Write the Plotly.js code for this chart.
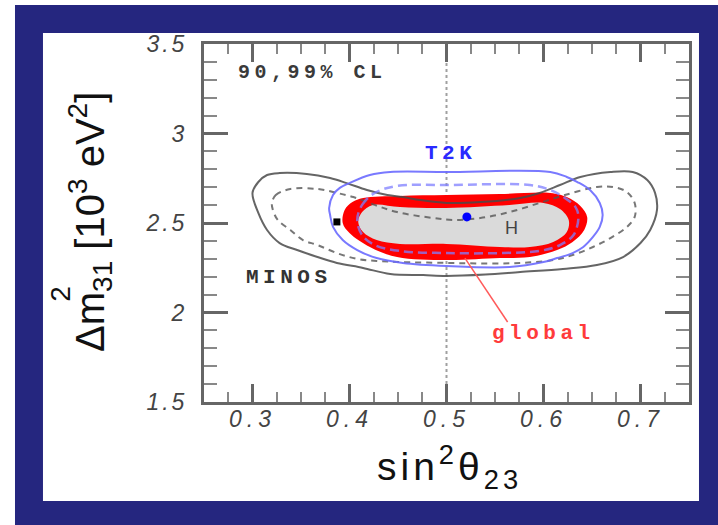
<!DOCTYPE html>
<html>
<head>
<meta charset="utf-8">
<script src="https://cdn.plot.ly/plotly-3.0.1.min.js"></script>
<style>
  html, body { margin: 0; padding: 0; background: #ffffff; }
  #chart { width: 718px; height: 525px; }
  .xtick text { letter-spacing: 5px; }
  .ytick text { letter-spacing: 3px; }
  .annotation-text[style*="Mono"] { letter-spacing: 4.5px; }
  .annotation-text[style*="39px"] { letter-spacing: 4px; }
</style>
</head>
<body>
<div id="chart"></div>
<script>
// Allowed regions in the (sin^2 theta23, Delta m^2_31) plane, 90% and 99% CL.

// MINOS, 99% CL (solid) and 90% CL (dashed)
const minos99X = [0.300, 0.306, 0.315, 0.328, 0.356, 0.380, 0.397, 0.418, 0.439, 0.455, 0.473, 0.500, 0.535, 0.576, 0.596, 0.617, 0.638, 0.669, 0.692, 0.707, 0.715, 0.717, 0.710, 0.700, 0.682, 0.655, 0.620, 0.576, 0.540, 0.500, 0.476, 0.442, 0.414, 0.387, 0.367, 0.346, 0.328, 0.315, 0.306, 0.300];
const minos99Y = [2.668, 2.729, 2.768, 2.779, 2.774, 2.751, 2.723, 2.684, 2.656, 2.645, 2.628, 2.612, 2.617, 2.640, 2.668, 2.712, 2.757, 2.785, 2.785, 2.740, 2.668, 2.573, 2.461, 2.388, 2.310, 2.265, 2.243, 2.226, 2.212, 2.204, 2.209, 2.215, 2.249, 2.277, 2.310, 2.349, 2.388, 2.461, 2.556, 2.668];

const minos90X = [0.320, 0.324, 0.339, 0.367, 0.387, 0.404, 0.426, 0.449, 0.486, 0.507, 0.535, 0.565, 0.596, 0.622, 0.655, 0.672, 0.686, 0.694, 0.694, 0.686, 0.669, 0.651, 0.630, 0.610, 0.576, 0.540, 0.500, 0.452, 0.428, 0.408, 0.387, 0.367, 0.352, 0.339, 0.326, 0.321, 0.320];
const minos90Y = [2.612, 2.656, 2.690, 2.690, 2.668, 2.645, 2.601, 2.561, 2.528, 2.517, 2.528, 2.561, 2.612, 2.656, 2.701, 2.701, 2.673, 2.612, 2.534, 2.478, 2.416, 2.366, 2.321, 2.293, 2.277, 2.274, 2.277, 2.282, 2.288, 2.299, 2.332, 2.377, 2.405, 2.461, 2.517, 2.573, 2.612];

// T2K, 99% CL (solid) and 90% CL (dashed)
const t2k99X = [0.379, 0.383, 0.390, 0.400, 0.421, 0.442, 0.500, 0.607, 0.624, 0.635, 0.648, 0.658, 0.661, 0.658, 0.651, 0.641, 0.630, 0.614, 0.600, 0.565, 0.500, 0.455, 0.428, 0.408, 0.393, 0.383, 0.380, 0.379];
const t2k99Y = [2.584, 2.656, 2.696, 2.723, 2.768, 2.785, 2.785, 2.785, 2.757, 2.729, 2.684, 2.612, 2.545, 2.478, 2.422, 2.366, 2.332, 2.304, 2.282, 2.254, 2.260, 2.277, 2.304, 2.349, 2.405, 2.478, 2.545, 2.584];

const t2k90X = [0.408, 0.413, 0.426, 0.449, 0.500, 0.586, 0.607, 0.622, 0.633, 0.636, 0.631, 0.617, 0.596, 0.555, 0.500, 0.452, 0.426, 0.413, 0.408];
const t2k90Y = [2.517, 2.601, 2.668, 2.707, 2.712, 2.712, 2.684, 2.640, 2.589, 2.534, 2.433, 2.377, 2.344, 2.332, 2.332, 2.344, 2.377, 2.433, 2.517];

// Global fit, 99% CL (red) and 90% CL (grey)
const global99X = [0.393, 0.395, 0.403, 0.414, 0.452, 0.500, 0.555, 0.607, 0.624, 0.638, 0.645, 0.642, 0.630, 0.614, 0.586, 0.555, 0.500, 0.449, 0.421, 0.400, 0.393];
const global99Y = [2.500, 2.573, 2.617, 2.640, 2.651, 2.656, 2.662, 2.668, 2.645, 2.595, 2.534, 2.461, 2.394, 2.349, 2.310, 2.304, 2.293, 2.310, 2.366, 2.444, 2.500];

const global90X = [0.409, 0.413, 0.424, 0.452, 0.500, 0.565, 0.600, 0.617, 0.626, 0.624, 0.610, 0.586, 0.555, 0.500, 0.452, 0.428, 0.414, 0.409];
const global90Y = [2.506, 2.561, 2.601, 2.589, 2.584, 2.601, 2.612, 2.578, 2.517, 2.450, 2.394, 2.366, 2.366, 2.383, 2.383, 2.405, 2.450, 2.506];

// Best-fit points
const t2kBestX = [0.521];
const t2kBestY = [2.534];
const minosBestX = [0.387];
const minosBestY = [2.506];

// Maximal mixing reference line
const maxMixX = [0.5, 0.5];
const maxMixY = [1.5, 3.5];

// Leader line from the "global" label to its region
const pointerX = [0.519, 0.563];
const pointerY = [2.304, 1.947];

// Axis ticks
const xTickVals = [0.3, 0.4, 0.5, 0.6, 0.7];
const xTickText = ['0.3', '0.4', '0.5', '0.6', '0.7'];
const yTickVals = [1.5, 2, 2.5, 3, 3.5];
const yTickText = ['1.5', '2', '2.5', '3', '3.5'];

const MONO = '"Liberation Mono", "DejaVu Sans Mono", monospace';
const SANS = '"Liberation Sans", Arial, sans-serif';

function region(x, y, color) {
  return { x: x, y: y, type: 'scatter', mode: 'lines', fill: 'toself', fillcolor: color,
           line: { width: 0, shape: 'spline', smoothing: 1, color: color }, hoverinfo: 'skip' };
}
function contour(x, y, color, width, dash, opacity) {
  return { x: x, y: y, type: 'scatter', mode: 'lines', opacity: opacity,
           line: { color: color, width: width, dash: dash, shape: 'spline', smoothing: 1 }, hoverinfo: 'skip' };
}

const traces = [
  { x: maxMixX, y: maxMixY, type: 'scatter', mode: 'lines',
    line: { color: '#a0a0a0', width: 2, dash: 'dot' }, hoverinfo: 'skip' },
  region(global99X, global99Y, '#ff0000'),
  region(global90X, global90Y, '#dadada'),
  contour(minos99X, minos99Y, '#4a4a4a', 2, 'solid', 0.85),
  contour(minos90X, minos90Y, '#555555', 2, '6px,5px', 0.8),
  contour(t2k99X, t2k99Y, '#6a6aff', 2, 'solid', 0.9),
  contour(t2k90X, t2k90Y, '#7f7fff', 2.5, '9px,5px', 0.75),
  { x: pointerX, y: pointerY, type: 'scatter', mode: 'lines',
    line: { color: '#ff5a5a', width: 1.5 }, hoverinfo: 'skip' },
  { x: t2kBestX, y: t2kBestY, type: 'scatter', mode: 'markers',
    marker: { color: '#0000ff', size: 9, symbol: 'circle' }, hoverinfo: 'skip' },
  { x: minosBestX, y: minosBestY, type: 'scatter', mode: 'markers',
    marker: { color: '#000000', size: 7, symbol: 'square' }, hoverinfo: 'skip' }
];

const axisCommon = {
  showgrid: false, zeroline: false, showline: true, linecolor: '#666666', linewidth: 3,
  mirror: 'allticks', ticks: 'inside', tickcolor: '#666666', tickwidth: 3,
  tickmode: 'array', fixedrange: true
};

const layout = {
  width: 718, height: 525,
  margin: { l: 204, r: 29, t: 44, b: 123 },
  paper_bgcolor: '#ffffff', plot_bgcolor: '#ffffff',
  showlegend: false,
  xaxis: Object.assign({}, axisCommon, {
    range: [0.25, 0.75], tickvals: xTickVals, ticktext: xTickText, ticklen: 18,
    ticklabelstandoff: -6,
    tickfont: { family: SANS, size: 23, color: '#444444', style: 'italic' },
    minor: { dtick: 0.025, tick0: 0.25, ticklen: 10, tickwidth: 2, tickcolor: '#888888', ticks: 'inside' }
  }),
  yaxis: Object.assign({}, axisCommon, {
    range: [1.5, 3.5], tickvals: yTickVals, ticktext: yTickText, ticklen: 24,
    ticklabelstandoff: 9,
    tickfont: { family: SANS, size: 23, color: '#444444', style: 'italic' },
    minor: { dtick: 0.1, tick0: 1.5, ticklen: 13, tickwidth: 2, tickcolor: '#888888', ticks: 'inside' }
  }),
  shapes: [
    { type: 'rect', xref: 'paper', yref: 'paper', x0: -0.3897, x1: 1.0598, y0: -0.3436, y1: 1.1089,
      fillcolor: '#25267f', line: { width: 0 }, layer: 'below' },
    { type: 'rect', xref: 'paper', yref: 'paper', x0: -0.332, x1: 1.0206, y0: -0.2765, y1: 1.0307,
      fillcolor: '#ffffff', line: { width: 0 }, layer: 'below' }
  ],
  annotations: [
    { xref: 'paper', yref: 'paper', x: 0.507, y: -0.182, xanchor: 'center', yanchor: 'middle', showarrow: false,
      text: 'sin<sup>2</sup>θ<sub>23</sub>', font: { family: SANS, size: 39, color: '#111111' } },
    { xref: 'paper', yref: 'paper', x: -0.235, y: 0.503, xanchor: 'center', yanchor: 'middle', showarrow: false,
      textangle: -90, text: 'Δm<sub>31</sub> [10<sup>3</sup> eV<sup>2</sup>]', font: { family: SANS, size: 40, color: '#111111' } },
    { xref: 'paper', yref: 'paper', x: -0.295, y: 0.302, xanchor: 'center', yanchor: 'middle', showarrow: false,
      textangle: -90, text: '2', font: { family: SANS, size: 28, color: '#111111' } },
    { x: 0.362, y: 3.343, xref: 'x', yref: 'y', showarrow: false, text: '90,99% CL',
      font: { family: MONO, size: 20, color: '#3a3a3a', weight: 'bold' } },
    { x: 0.5045, y: 2.891, xref: 'x', yref: 'y', showarrow: false, text: 'T2K',
      font: { family: MONO, size: 21, color: '#2a2aff', weight: 'bold' } },
    { x: 0.338, y: 2.193, xref: 'x', yref: 'y', showarrow: false, text: 'MINOS',
      font: { family: MONO, size: 21, color: '#333333', weight: 'bold' } },
    { x: 0.5675, y: 2.472, xref: 'x', yref: 'y', showarrow: false, text: 'H',
      font: { family: SANS, size: 18, color: '#444444' } },
    { x: 0.600, y: 1.880, xref: 'x', yref: 'y', showarrow: false, text: 'global',
      font: { family: MONO, size: 21, color: '#ff3b3b', weight: 'bold' } }
  ]
};

Plotly.newPlot('chart', traces, layout, { staticPlot: true, displayModeBar: false });
</script>
</body>
</html>
